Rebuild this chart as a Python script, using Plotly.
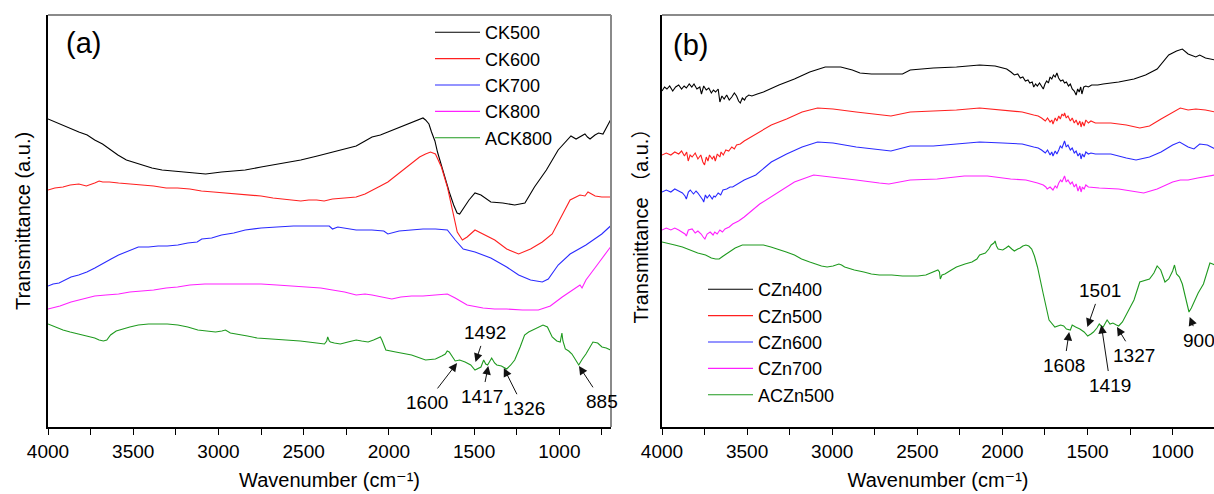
import plotly.graph_objects as go

# ---------------- (a) CK series: wavenumber (cm-1) and transmittance (a.u.) ----------------
ck500_wn = [4000, 3960, 3912, 3870, 3819, 3770, 3726, 3680, 3633, 3590, 3540, 3447, 3390, 3331,
            3270, 3214, 3140, 3075, 2982, 2910, 2843, 2750, 2657, 2590, 2517, 2420, 2331, 2260,
            2192, 2140, 2099, 2050, 2006, 1960, 1913, 1860, 1820, 1800, 1785, 1765, 1750, 1730,
            1715, 1681, 1646, 1620, 1600, 1585, 1564, 1530, 1495, 1460, 1402, 1332, 1262, 1202,
            1146, 1076, 1007, 932, 902, 880, 850, 835, 820, 791, 770, 744, 700]
ck500_t = [308, 305, 302, 299, 295, 292, 287, 283, 277, 272, 267, 262, 259, 257,
           256, 255, 254, 253, 255, 256, 257, 260, 263, 265, 267, 271, 275, 278,
           281, 286, 290, 292, 295, 298, 301, 305, 308, 309, 307, 303, 295, 286,
           275, 255, 235, 222, 214, 213, 218, 227, 234, 232, 225, 224, 222, 224,
           240, 257, 277, 291, 288, 290, 293, 290, 288, 292, 294, 293, 307]

ck600_wn = [4000, 3960, 3912, 3870, 3819, 3775, 3726, 3700, 3679, 3640, 3586, 3520, 3447, 3380,
            3307, 3240, 3168, 3100, 3029, 2960, 2889, 2820, 2750, 2680, 2610, 2560, 2517, 2470,
            2424, 2380, 2331, 2260, 2192, 2140, 2099, 2050, 2006, 1960, 1913, 1860, 1820, 1785,
            1756, 1727, 1692, 1657, 1623, 1599, 1569, 1541, 1495, 1448, 1379, 1309, 1239, 1169,
            1100, 1042, 983, 937, 879, 850, 832, 790, 751, 700]
ck600_t = [237, 239, 240, 242, 243, 241, 244, 246, 245, 245, 244, 243, 242, 241,
           239, 239, 238, 236, 235, 234, 233, 232, 231, 229, 228, 227, 226, 227,
           227, 226, 228, 229, 230, 233, 237, 241, 245, 251, 257, 264, 270, 273,
           275, 273, 260, 240, 213, 195, 187, 190, 197, 193, 187, 178, 173, 178,
           185, 193, 213, 227, 232, 231, 235, 231, 230, 230]

ck700_wn = [4000, 3970, 3935, 3900, 3865, 3820, 3772, 3725, 3679, 3630, 3586, 3530, 3470, 3410,
            3354, 3300, 3238, 3180, 3125, 3098, 3040, 2982, 2910, 2843, 2750, 2657, 2560, 2471,
            2400, 2350, 2331, 2300, 2192, 2100, 2030, 2006, 1940, 1867, 1800, 1727, 1657, 1611,
            1564, 1495, 1402, 1309, 1239, 1169, 1100, 1065, 1007, 937, 844, 751, 700]
ck700_t = [141, 143, 144, 147, 150, 152, 155, 159, 163, 168, 172, 176, 180, 180,
           181, 181, 182, 184, 185, 188, 189, 192, 194, 197, 199, 200, 201, 201,
           201, 201, 198, 200, 197, 197, 196, 193, 196, 197, 198, 198, 197, 187,
           178, 175, 169, 160, 152, 147, 145, 148, 162, 173, 182, 193, 201]

ck800_wn = [4000, 3930, 3865, 3800, 3726, 3660, 3586, 3520, 3447, 3380, 3307, 3240, 3168, 3080,
            2982, 2910, 2843, 2750, 2657, 2560, 2471, 2400, 2331, 2260, 2192, 2140, 2099, 2040,
            1983, 1930, 1867, 1800, 1727, 1657, 1611, 1541, 1448, 1380, 1309, 1216, 1123, 1053,
            983, 902, 879, 867, 844, 774, 700]
ck800_t = [118, 121, 125, 128, 131, 132, 133, 135, 136, 137, 139, 140, 142, 143,
           143, 143, 143, 143, 142, 141, 140, 139, 137, 135, 132, 133, 132, 130,
           128, 130, 131, 131, 132, 133, 129, 122, 119, 118, 118, 117, 117, 121,
           130, 140, 142, 139, 147, 163, 180]

ack800_wn = [4000, 3960, 3912, 3870, 3819, 3770, 3726, 3700, 3675, 3655, 3633, 3600, 3563, 3520,
             3470, 3410, 3354, 3300, 3238, 3180, 3121, 3060, 3017, 2980, 2959, 2930, 2889, 2830,
             2773, 2690, 2610, 2520, 2424, 2378, 2365, 2359, 2350, 2343, 2320, 2285, 2240, 2192,
             2160, 2122, 2090, 2064, 2050, 2041, 2018, 1960, 1867, 1785, 1727, 1690, 1669, 1658,
             1646, 1611, 1585, 1553, 1520, 1495, 1460, 1444, 1432, 1421, 1405, 1397, 1380, 1367,
             1340, 1309, 1285, 1262, 1230, 1204, 1180, 1158, 1120, 1096, 1070, 1042, 1015, 995,
             985, 979, 965, 945, 926, 905, 886, 865, 844, 803, 775, 750, 725, 700]
ack800_t = [103, 100, 97, 95, 93, 91, 89, 87, 86, 87, 92, 96, 98, 100,
            102, 103, 103, 103, 102, 100, 97, 96, 95, 96, 97, 94, 93, 91,
            89, 88, 87, 86, 84, 83, 86, 90, 86, 85, 84, 83, 85, 87,
            86, 85, 87, 89, 90, 87, 77, 75, 72, 67, 68, 71, 73, 76,
            75, 66, 67, 65, 62, 57, 60, 67, 63, 62, 67, 69, 64, 62,
            61, 58, 62, 67, 80, 92, 95, 97, 100, 102, 100, 90, 86, 85,
            94, 86, 78, 76, 73, 67, 62, 68, 73, 85, 84, 80, 79, 77]

# ---------------- (b) CZn series ----------------
czn400_wn = [4000, 3985, 3971, 3955, 3937, 3920, 3902, 3885, 3870, 3857, 3840, 3825, 3812, 3795,
             3778, 3768, 3755, 3740, 3725, 3710, 3698, 3685, 3670, 3660, 3648, 3635, 3620, 3605,
             3590, 3575, 3562, 3550, 3540, 3528, 3515, 3506, 3490, 3472, 3440, 3404, 3313, 3222,
             3132, 3041, 2950, 2882, 2837, 2769, 2678, 2587, 2542, 2406, 2270, 2134, 2043, 1975,
             1950, 1930, 1910, 1895, 1880, 1865, 1850, 1839, 1825, 1816, 1805, 1795, 1782, 1770,
             1760, 1750, 1740, 1730, 1720, 1710, 1700, 1690, 1680, 1670, 1658, 1645, 1635, 1624,
             1612, 1601, 1590, 1578, 1567, 1558, 1549, 1540, 1533, 1522, 1510, 1495, 1476, 1440,
             1408, 1317, 1227, 1159, 1091, 1023, 977, 943, 909, 864, 841, 807, 751]
czn400_t = [336, 340, 338, 341, 336, 340, 342, 338, 341, 339, 343, 340, 343, 338,
            340, 333, 341, 337, 339, 334, 337, 335, 338, 325, 331, 328, 332, 327,
            330, 334, 331, 326, 324, 329, 327, 330, 332, 331, 333, 335, 342, 348,
            355, 360, 360, 357, 354, 353, 353, 353, 357, 359, 360, 362, 361, 358,
            355, 352, 353, 349, 350, 346, 347, 344, 345, 340, 343, 341, 344, 340,
            338, 343, 346, 344, 350, 348, 352, 350, 354, 349, 346, 347, 344, 345,
            341, 343, 338, 336, 332, 338, 335, 340, 333, 340, 341, 340, 342, 342,
            343, 345, 348, 352, 358, 372, 376, 378, 373, 370, 372, 369, 367]

czn500_wn = [4000, 3975, 3948, 3925, 3902, 3885, 3868, 3855, 3846, 3835, 3823, 3805, 3789, 3772,
             3760, 3750, 3740, 3730, 3721, 3705, 3695, 3687, 3675, 3660, 3653, 3640, 3625, 3608,
             3590, 3575, 3562, 3540, 3517, 3449, 3358, 3268, 3177, 3086, 2995, 2859, 2723, 2655,
             2542, 2406, 2270, 2134, 1998, 1884, 1816, 1790, 1770, 1748, 1735, 1720, 1710, 1703,
             1690, 1680, 1669, 1660, 1650, 1640, 1635, 1625, 1615, 1601, 1590, 1578, 1567, 1556,
             1545, 1538, 1530, 1520, 1510, 1495, 1480, 1454, 1363, 1272, 1193, 1136, 1068, 1000,
             955, 909, 864, 807, 751]
czn500_t = [272, 274, 272, 275, 273, 276, 271, 275, 266, 272, 270, 274, 268, 272,
            265, 262, 270, 266, 272, 268, 271, 266, 273, 270, 275, 272, 277, 276,
            280, 278, 282, 283, 286, 293, 302, 308, 315, 319, 318, 315, 312, 311,
            315, 316, 317, 319, 317, 315, 312, 311, 309, 306, 309, 305, 307, 303,
            309, 306, 311, 308, 313, 311, 314, 309, 311, 306, 309, 304, 307, 302,
            306, 300, 305, 301, 307, 304, 306, 304, 304, 302, 299, 301, 308, 315,
            319, 317, 318, 317, 315]

czn600_wn = [4000, 3975, 3948, 3925, 3902, 3880, 3865, 3857, 3845, 3834, 3815, 3800, 3789, 3770,
             3760, 3755, 3745, 3735, 3721, 3705, 3695, 3687, 3670, 3655, 3642, 3620, 3600, 3585,
             3550, 3517, 3449, 3358, 3268, 3177, 3086, 2995, 2859, 2723, 2655, 2542, 2406, 2270,
             2134, 1998, 1884, 1816, 1790, 1770, 1748, 1735, 1720, 1710, 1703, 1690, 1680, 1669,
             1660, 1650, 1640, 1635, 1625, 1615, 1601, 1590, 1578, 1567, 1556, 1545, 1538, 1530,
             1520, 1510, 1495, 1480, 1454, 1363, 1272, 1215, 1136, 1068, 1000, 959, 909, 875,
             841, 796, 751]
czn600_t = [235, 237, 235, 238, 236, 234, 231, 228, 235, 237, 233, 236, 234, 230,
            227, 225, 232, 229, 232, 228, 231, 230, 234, 232, 237, 238, 240, 240,
            244, 247, 252, 265, 273, 280, 285, 284, 280, 277, 276, 281, 281, 283,
            285, 284, 283, 280, 279, 277, 274, 277, 272, 275, 271, 276, 273, 277,
            281, 279, 283, 286, 280, 282, 277, 279, 274, 276, 271, 274, 268, 273,
            270, 275, 273, 274, 273, 273, 269, 267, 270, 275, 282, 285, 280, 278,
            283, 282, 278]

czn700_wn = [4000, 3975, 3948, 3925, 3902, 3880, 3865, 3857, 3845, 3823, 3805, 3789, 3770, 3758,
             3748, 3735, 3717, 3700, 3690, 3676, 3660, 3645, 3630, 3605, 3585, 3550, 3517, 3426,
             3336, 3222, 3109, 2995, 2859, 2723, 2667, 2542, 2383, 2224, 2088, 1952, 1862, 1794,
             1760, 1745, 1737, 1720, 1703, 1690, 1680, 1669, 1658, 1650, 1640, 1635, 1625, 1615,
             1601, 1590, 1578, 1567, 1556, 1545, 1538, 1530, 1520, 1510, 1495, 1431, 1317, 1227,
             1170, 1091, 1000, 955, 909, 853, 796, 751]
czn700_t = [197, 199, 197, 199, 197, 195, 193, 191, 197, 198, 194, 196, 193, 190,
            188, 193, 195, 192, 195, 193, 197, 195, 198, 200, 203, 206, 210, 223,
            233, 245, 252, 250, 247, 244, 243, 247, 248, 251, 251, 248, 247, 244,
            242, 240, 238, 240, 237, 241, 239, 244, 247, 245, 249, 251, 245, 247,
            243, 245, 240, 243, 236, 241, 235, 240, 238, 242, 240, 239, 238, 236,
            234, 238, 245, 247, 247, 249, 251, 252]

aczn500_wn = [4000, 3960, 3925, 3880, 3834, 3790, 3744, 3710, 3685, 3664, 3640, 3608, 3570, 3528,
              3470, 3404, 3360, 3313, 3270, 3222, 3180, 3132, 3100, 3063, 3030, 2995, 2961, 2945,
              2927, 2870, 2814, 2770, 2723, 2650, 2587, 2540, 2497, 2450, 2406, 2379, 2370, 2365,
              2355, 2338, 2300, 2270, 2220, 2179, 2150, 2134, 2100, 2080, 2066, 2050, 2043, 2035,
              2025, 1998, 1980, 1964, 1945, 1930, 1910, 1896, 1880, 1862, 1845, 1828, 1812, 1794,
              1760, 1726, 1692, 1658, 1640, 1624, 1601, 1590, 1570, 1545, 1520, 1499, 1480, 1465,
              1445, 1431, 1420, 1408, 1395, 1385, 1368, 1351, 1330, 1317, 1295, 1272, 1250, 1227,
              1193, 1160, 1136, 1110, 1091, 1070, 1045, 1023, 1000, 989, 983, 977, 960, 943,
              925, 904, 890, 875, 850, 819, 800, 781, 765, 751]
aczn500_t = [185, 183, 182, 180, 177, 174, 172, 169, 168, 168, 171, 175, 179, 182,
             182, 182, 180, 177, 175, 172, 168, 165, 163, 161, 160, 161, 163, 162,
             160, 157, 155, 153, 152, 152, 151, 151, 151, 152, 155, 157, 155, 148,
             152, 153, 157, 160, 163, 165, 168, 172, 174, 178, 182, 184, 186, 181,
             178, 177, 179, 181, 178, 176, 178, 179, 181, 182, 181, 178, 171, 160,
             133, 107, 100, 102, 101, 98, 97, 102, 100, 98, 95, 91, 93, 95,
             99, 103, 101, 100, 104, 107, 103, 104, 102, 101, 105, 112, 119, 127,
             145, 147, 148, 154, 161, 157, 145, 148, 156, 162, 157, 153, 150, 143,
             130, 115, 119, 125, 134, 143, 153, 164, 163, 162]

names_a = ["CK500", "CK600", "CK700", "CK800", "ACK800"]
names_b = ["CZn400", "CZn500", "CZn600", "CZn700", "ACZn500"]
colors = ["#000000", "#ff2020", "#2a2aff", "#ff20ff", "#1f9a1f"]

# marked bands: wavenumber and transmittance at the arrow tip
peaks_a = [1600, 1492, 1417, 1326, 885]
peaks_a_t = [64, 65, 61, 59, 61]
peaks_b = [1608, 1501, 1419, 1327, 900]
peaks_b_t = [95, 100, 102, 100, 110]

W, H = 1214, 494
FONT = "Liberation Sans, Arial, DejaVu Sans, Noto Sans CJK SC, sans-serif"

fig = go.Figure()

data_a = [(ck500_wn, ck500_t), (ck600_wn, ck600_t), (ck700_wn, ck700_t),
          (ck800_wn, ck800_t), (ack800_wn, ack800_t)]
data_b = [(czn400_wn, czn400_t), (czn500_wn, czn500_t), (czn600_wn, czn600_t),
          (czn700_wn, czn700_t), (aczn500_wn, aczn500_t)]

for name, (x, y), c in zip(names_a, data_a, colors):
    fig.add_trace(go.Scatter(x=x, y=y, mode="lines", name=name,
                             line=dict(color=c, width=1.1),
                             xaxis="x", yaxis="y", legend="legend"))
for name, (x, y), c in zip(names_b, data_b, colors):
    fig.add_trace(go.Scatter(x=x, y=y, mode="lines", name=name,
                             line=dict(color=c, width=1.1),
                             xaxis="x2", yaxis="y2", legend="legend2"))

ydom = [1 - 427 / H, 1 - 15 / H]

xcommon = dict(
    tick0=0, dtick=500, ticks="outside", ticklen=6, tickwidth=1.3, tickcolor="#000",
    minor=dict(dtick=250, ticks="outside", ticklen=6, tickwidth=1.3, tickcolor="#000"),
    showline=True, linecolor="#000", linewidth=1.5, mirror=False,
    showgrid=False, zeroline=False, automargin=False,
    tickfont=dict(family=FONT, size=19, color="#000"),
    title=dict(text="Wavenumber (cm\u207b\u00b9)", font=dict(family=FONT, size=20, color="#000"),
               standoff=12),
)
ycommon = dict(
    range=[0, 412], showticklabels=False, ticks="",
    showline=True, linecolor="#000", linewidth=1.5, mirror=False,
    showgrid=False, zeroline=False, domain=ydom, automargin=False,
)

fig.update_layout(
    width=W, height=H,
    margin=dict(l=0, r=0, t=0, b=0, autoexpand=False),
    paper_bgcolor="white", plot_bgcolor="white",
    xaxis=dict(domain=[48 / W, 611 / W], range=[4000, 697], anchor="y", **xcommon),
    xaxis2=dict(domain=[662 / W, 1.0], range=[4000, 757], anchor="y2", **xcommon),
    yaxis=dict(anchor="x",
               title=dict(text="Transmittance (a.u.)",
                          font=dict(family=FONT, size=20, color="#000"), standoff=10),
               **ycommon),
    yaxis2=dict(anchor="x2",
                title=dict(text="Transmittance （a.u.）",
                           font=dict(family=FONT, size=20, color="#000"), standoff=6),
                **ycommon),
    legend=dict(x=430 / W, y=1 - 14 / H, xanchor="left", yanchor="top",
                bgcolor="rgba(0,0,0,0)", borderwidth=0, itemwidth=45,
                font=dict(family=FONT, size=18, color="#000")),
    legend2=dict(x=703 / W, y=1 - 271 / H, xanchor="left", yanchor="top",
                 bgcolor="rgba(0,0,0,0)", borderwidth=0, itemwidth=45,
                 font=dict(family=FONT, size=18, color="#000")),
)

# grey top / right frame lines
shapes = []
for xr, yr, right in [("x domain", "y domain", True), ("x2 domain", "y2 domain", False)]:
    shapes.append(dict(type="line", xref=xr, yref=yr, x0=0, x1=1, y0=1, y1=1,
                       line=dict(color="#8a8a8a", width=2)))
    if right:
        shapes.append(dict(type="line", xref=xr, yref=yr, x0=1, x1=1, y0=0, y1=1,
                           line=dict(color="#8a8a8a", width=2)))
fig.update_layout(shapes=shapes)

# panel letters
fig.add_annotation(text="(a)", xref="x domain", yref="y domain", x=0.028, y=0.975,
                   xanchor="left", yanchor="top", showarrow=False,
                   font=dict(family=FONT, size=29, color="#000"))
fig.add_annotation(text="(b)", xref="x2 domain", yref="y2 domain", x=0.016, y=0.97,
                   xanchor="left", yanchor="top", showarrow=False,
                   font=dict(family=FONT, size=29, color="#000"))

# label centre offsets (px) from the arrow tip
text_a = [(-30, 39), (10, -30), (-6, 30), (20, 40), (23, 35)]
text_b = [(-5, 33), (13, -37), (9, 60), (17, 28), (9, 23)]


def mark_peaks(xref, yref, wns, ts, texts):
    for wn, t, (dx, dy) in zip(wns, ts, texts):
        fig.add_annotation(x=wn, y=t, xref=xref, yref=yref, text=str(wn), showarrow=True,
                           ax=dx, ay=dy, arrowhead=2, arrowsize=1.7, arrowwidth=1,
                           arrowcolor="#111", standoff=0, startstandoff=2,
                           font=dict(family=FONT, size=19, color="#000"))


mark_peaks("x", "y", peaks_a, peaks_a_t, text_a)
mark_peaks("x2", "y2", peaks_b, peaks_b_t, text_b)

fig.write_html("out.html")
